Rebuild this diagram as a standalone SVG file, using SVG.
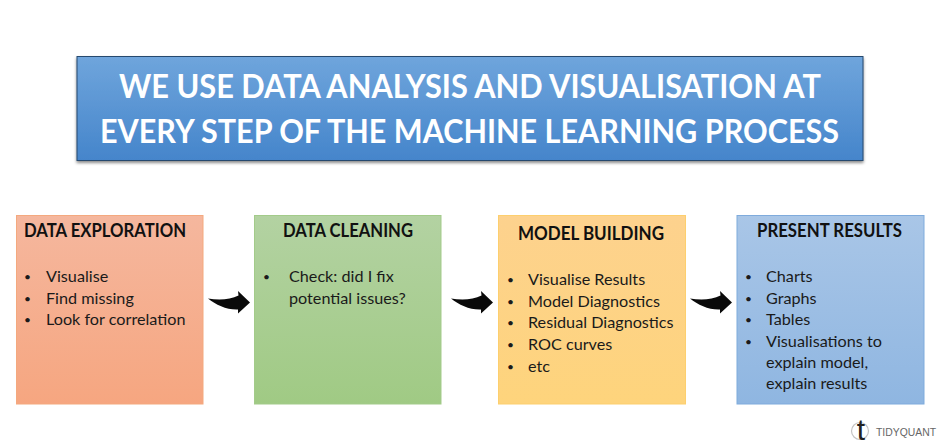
<svg xmlns="http://www.w3.org/2000/svg" width="940" height="448" viewBox="0 0 940 448">
<style>
text{font-family:Lato,"Liberation Sans",sans-serif;fill:#1a1a1a}
.h{font-size:18.500px;font-weight:700;fill:#111}
.b{font-size:16.200px}
.d{font-size:12px}
.t{font-size:33px;font-weight:700;fill:#fff}
.box{stroke-width:1}
</style>
<defs>
<linearGradient id="gh" x1="0" y1="0" x2="0" y2="1"><stop offset="0" stop-color="#6fa5dc"/><stop offset="1" stop-color="#4585cb"/></linearGradient>
<linearGradient id="g1" x1="0" y1="0" x2="0" y2="1"><stop offset="0" stop-color="#f5b79e"/><stop offset="1" stop-color="#f6a680"/></linearGradient>
<linearGradient id="g2" x1="0" y1="0" x2="0" y2="1"><stop offset="0" stop-color="#b3d2a2"/><stop offset="1" stop-color="#a0ca84"/></linearGradient>
<linearGradient id="g3" x1="0" y1="0" x2="0" y2="1"><stop offset="0" stop-color="#fdd28e"/><stop offset="1" stop-color="#fed47c"/></linearGradient>
<linearGradient id="g4" x1="0" y1="0" x2="0" y2="1"><stop offset="0" stop-color="#a9c6e7"/><stop offset="1" stop-color="#8fb6e1"/></linearGradient>
<filter id="sh" x="-2%" y="-5%" width="104%" height="112%"><feDropShadow dx="0" dy="2" stdDeviation="1.500" flood-color="#000" flood-opacity=".45"/></filter>
<path id="arr" d="M208 298.500C218 300 230 300 238.500 295.500L238 291L250 302.500L238 313.500L238 309.500C227 310 216 305 208 298.500Z" fill="#0a0a0a"/>
</defs>
<rect width="940" height="448" fill="#fff"/>
<g id="title">
<rect x="77" y="56.500" width="786" height="104" fill="url(#gh)" stroke="#26486e" filter="url(#sh)"/>
<text class="t" x="119" y="98" textLength="702" lengthAdjust="spacingAndGlyphs">WE USE DATA ANALYSIS AND VISUALISATION AT</text>
<text class="t" x="100" y="143" textLength="739" lengthAdjust="spacingAndGlyphs">EVERY STEP OF THE MACHINE LEARNING PROCESS</text>
</g>
<g id="data-exploration">
<rect class="box" x="16.500" y="215.500" width="186.500" height="188.500" fill="url(#g1)" stroke="#f4a97f"/>
<text class="h" x="24" y="237" textLength="162" lengthAdjust="spacingAndGlyphs">DATA EXPLORATION</text>
<text class="d" x="24" y="281">•</text><text class="b" x="46" y="282">Visualise</text>
<text class="d" x="24" y="302.500">•</text><text class="b" x="46" y="303.500">Find missing</text>
<text class="d" x="24" y="324">•</text><text class="b" x="46" y="325">Look for correlation</text>
</g>
<g id="data-cleaning">
<rect class="box" x="254.500" y="215.500" width="186.500" height="188.500" fill="url(#g2)" stroke="#a3cb8a"/>
<text class="h" x="283" y="237" textLength="130" lengthAdjust="spacingAndGlyphs">DATA CLEANING</text>
<text class="d" x="263" y="281">•</text><text class="b" x="289" y="282">Check: did I fix</text>
<text class="b" x="289" y="303.500">potential issues?</text>
</g>
<g id="model-building">
<rect class="box" x="498.500" y="215.500" width="187" height="188.500" fill="url(#g3)" stroke="#fdcf6e"/>
<text class="h" x="518" y="240" textLength="146" lengthAdjust="spacingAndGlyphs">MODEL BUILDING</text>
<text class="d" x="507" y="284">•</text><text class="b" x="528" y="285">Visualise Results</text>
<text class="d" x="507" y="305.500">•</text><text class="b" x="528" y="306.500">Model Diagnostics</text>
<text class="d" x="507" y="327">•</text><text class="b" x="528" y="328">Residual Diagnostics</text>
<text class="d" x="507" y="349">•</text><text class="b" x="528" y="350">ROC curves</text>
<text class="d" x="507" y="370.500">•</text><text class="b" x="528" y="371.500">etc</text>
</g>
<g id="present-results">
<rect class="box" x="737" y="215.500" width="187" height="188.500" fill="url(#g4)" stroke="#7fabdc"/>
<text class="h" x="757" y="237" textLength="145" lengthAdjust="spacingAndGlyphs">PRESENT RESULTS</text>
<text class="d" x="745" y="281">•</text><text class="b" x="766" y="282">Charts</text>
<text class="d" x="745" y="302.500">•</text><text class="b" x="766" y="303.500">Graphs</text>
<text class="d" x="745" y="324">•</text><text class="b" x="766" y="325">Tables</text>
<text class="d" x="745" y="345.500">•</text><text class="b" x="766" y="346.500">Visualisations to</text>
<text class="b" x="766" y="368">explain model,</text>
<text class="b" x="766" y="389">explain results</text>
</g>
<g id="connectors">
<use href="#arr"/>
<use href="#arr" x="243"/>
<use href="#arr" x="482"/>
</g>
<g id="logo">
<circle cx="860" cy="431" r="8.500" fill="none" stroke="#c4c4c4" stroke-width="1.200"/>
<text x="861" y="440" font-size="30" text-anchor="middle" style="fill:#222;font-family:'Liberation Sans',sans-serif">t</text>
<text x="876" y="436" font-size="11" textLength="60" lengthAdjust="spacingAndGlyphs" style="fill:#666;font-family:'Liberation Sans',sans-serif">TIDYQUANT</text>
</g>
</svg>
